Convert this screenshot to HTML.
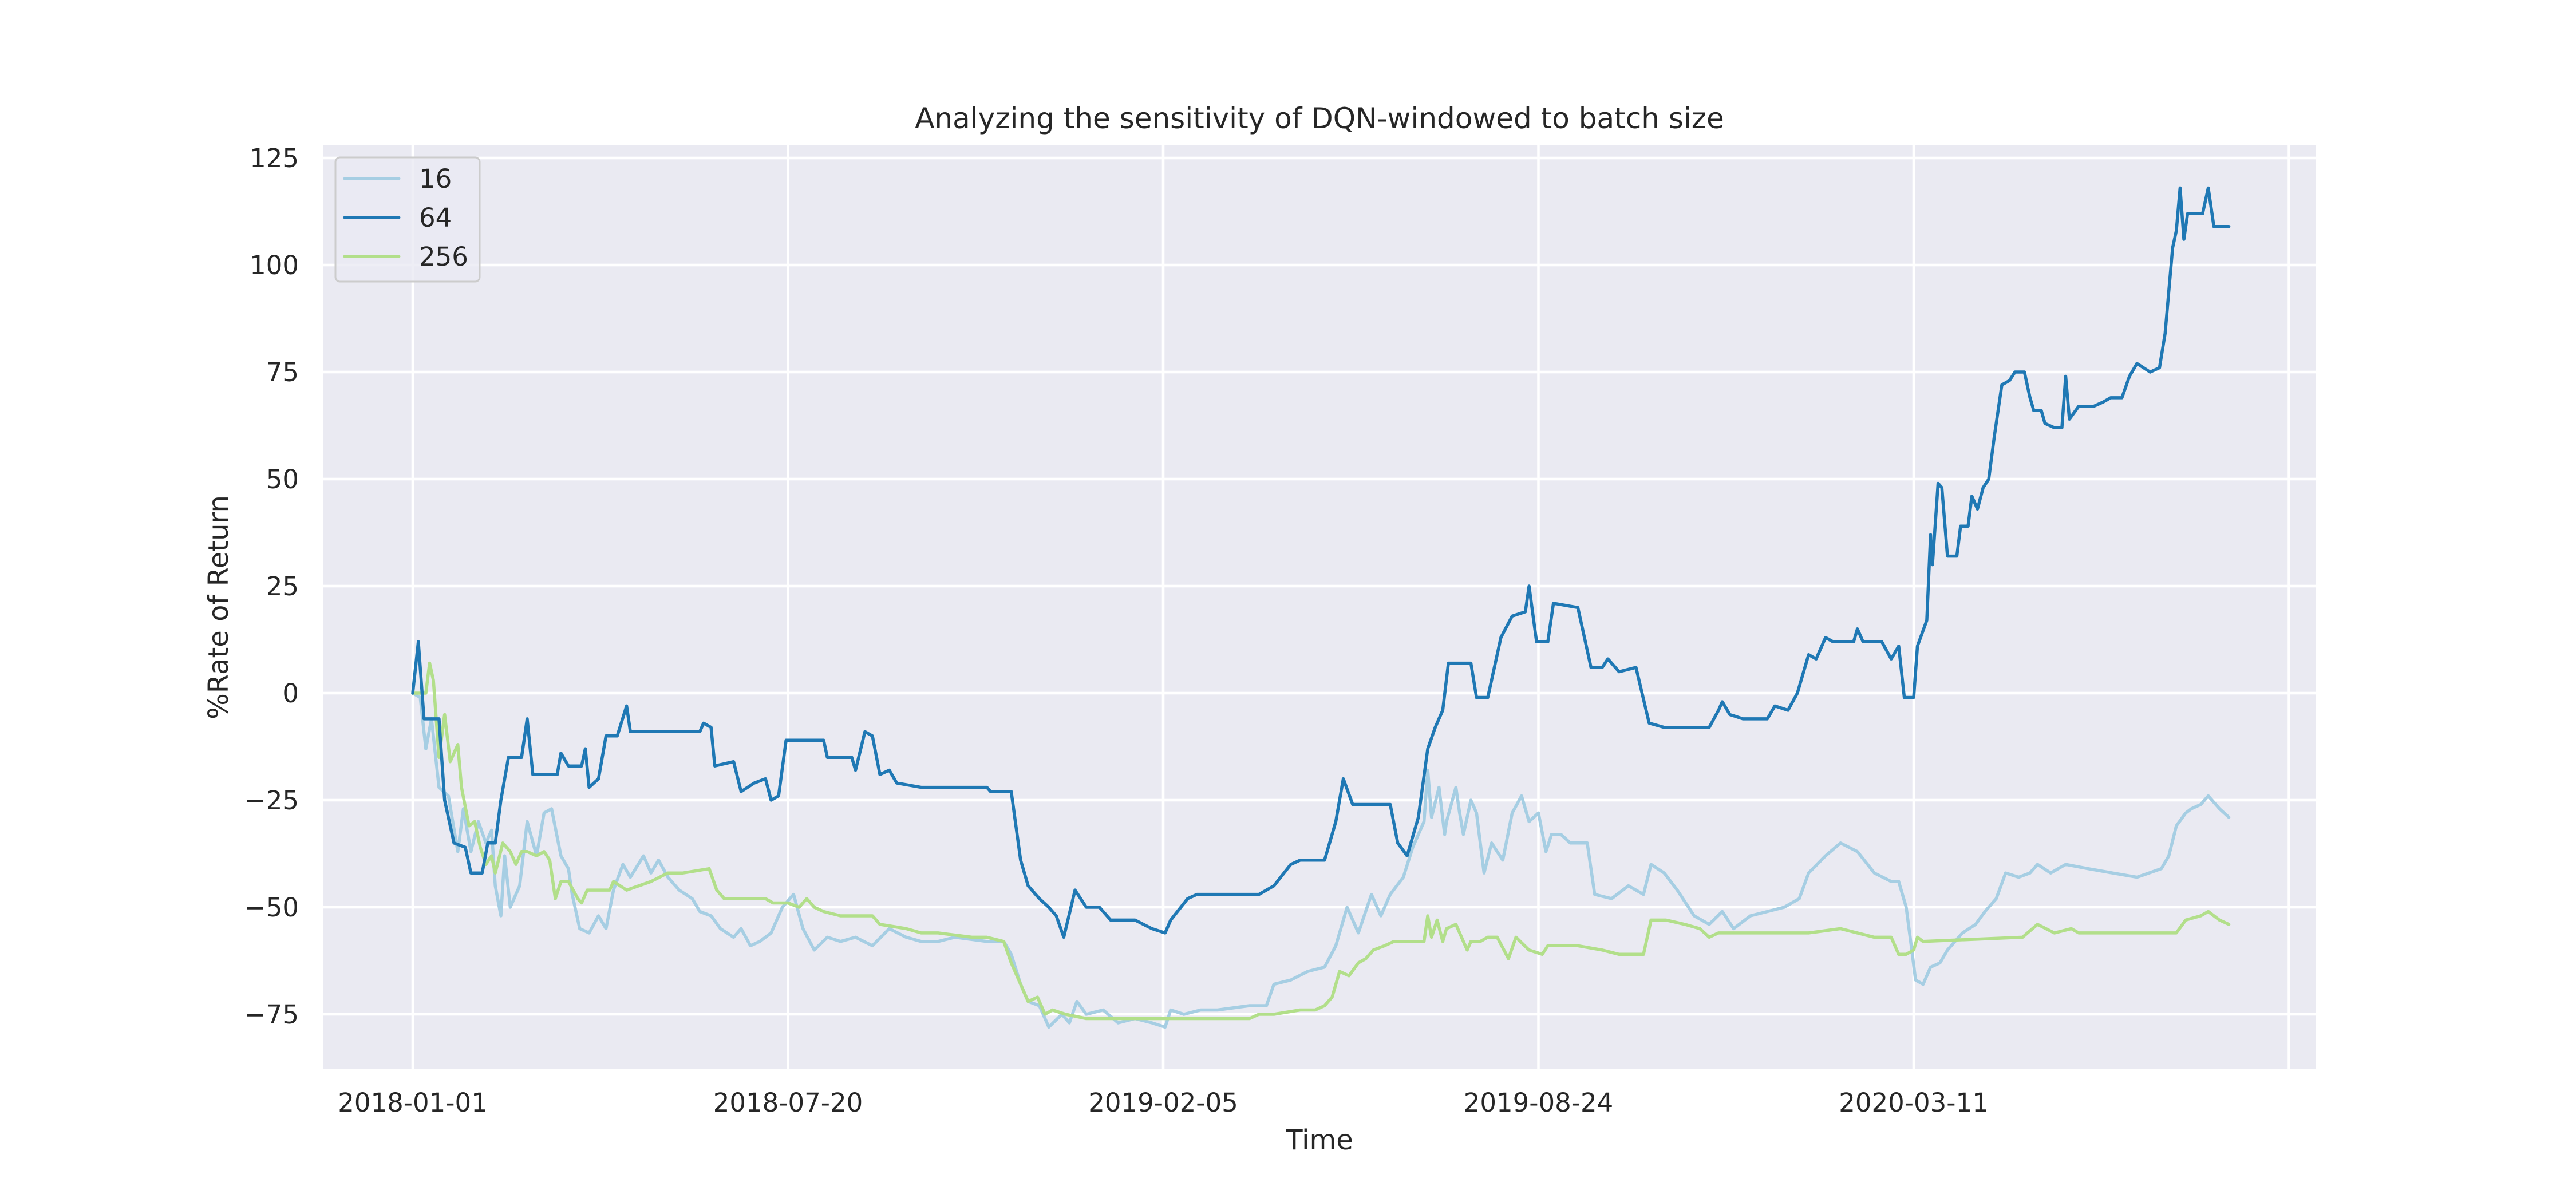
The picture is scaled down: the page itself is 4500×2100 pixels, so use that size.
<!DOCTYPE html>
<html><head><meta charset="utf-8"><style>
html,body{margin:0;padding:0;background:#fff}
svg{display:block;font-family:"DejaVu Sans","Liberation Sans",sans-serif}
</style></head><body>
<svg id="chart" width="4500" height="2100" viewBox="0 0 4500 2100" xmlns="http://www.w3.org/2000/svg">
<rect x="0" y="0" width="4500" height="2100" fill="#ffffff"/>
<rect x="565" y="254" width="3481" height="1614" fill="#eaeaf2"/>
<g id="grid"></g>
<g id="series"></g>
<g id="ticks"></g>
<text x="2305" y="224" font-size="50" text-anchor="middle" fill="#262626">Analyzing the sensitivity of DQN-windowed to batch size</text>
<text x="2305" y="2008" font-size="48" text-anchor="middle" fill="#262626">Time</text>
<text x="0" y="0" font-size="48" text-anchor="middle" fill="#262626" transform="translate(398,1061) rotate(-90)">%Rate of Return</text>
<g>
<rect x="586" y="275" width="252" height="217" rx="8" fill="#eaeaf2" fill-opacity="0.8" stroke="#cccccc" stroke-width="3"/>
<g><line x1="602" y1="312" x2="697" y2="312" stroke="#a6cee3" stroke-width="5" stroke-linecap="round"/><text x="732" y="328" font-size="45" fill="#262626">16</text></g>
<g><line x1="602" y1="380" x2="697" y2="380" stroke="#1f78b4" stroke-width="5" stroke-linecap="round"/><text x="732" y="396" font-size="45" fill="#262626">64</text></g>
<g><line x1="602" y1="448" x2="697" y2="448" stroke="#b2df8a" stroke-width="5" stroke-linecap="round"/><text x="732" y="464" font-size="45" fill="#262626">256</text></g>
</g>
</svg>
<script>
const xTickDays = [0, 200, 400, 600, 800, 1000];
const xTickLabels = ["2018-01-01", "2018-07-20", "2019-02-05", "2019-08-24", "2020-03-11", ""];
const yTicks = [-75, -50, -25, 0, 25, 50, 75, 100, 125];
const seriesNames = ["16", "64", "256"];
const days16 = [0,4,7,10,14,19,24,27,31,35,39,42,44,47,49,52,57,61,66,70,74,79,83,85,89,94,99,103,107,112,116,123,127,131,136,142,149,153,159,164,171,175,180,185,191,197,203,208,214,221,228,236,245,254,263,271,280,289,306,315,319,324,328,334,339,346,350,354,359,368,376,385,394,401,404,411,420,429,446,455,459,468,477,486,492,498,504,511,516,521,528,533,539,541,543,547,550,551,556,558,560,564,567,571,575,581,586,591,595,600,604,607,612,617,626,630,639,648,656,660,667,674,683,691,698,704,713,722,731,739,744,753,761,770,779,788,792,796,799,801,805,809,814,818,826,833,838,844,849,856,862,866,873,881,893,906,919,932,936,940,945,948,953,957,963,968];
const vals16 = [0,-1,-13,-6,-22,-24,-37,-27,-37,-30,-35,-32,-45,-52,-38,-50,-45,-30,-38,-28,-27,-38,-41,-47,-55,-56,-52,-55,-46,-40,-43,-38,-42,-39,-43,-46,-48,-51,-52,-55,-57,-55,-59,-58,-56,-50,-47,-55,-60,-57,-58,-57,-59,-55,-57,-58,-58,-57,-58,-58,-61,-68,-72,-73,-78,-75,-77,-72,-75,-74,-77,-76,-77,-78,-74,-75,-74,-74,-73,-73,-68,-67,-65,-64,-59,-50,-56,-47,-52,-47,-43,-36,-30,-18,-29,-22,-33,-30,-22,-28,-33,-25,-28,-42,-35,-39,-28,-24,-30,-28,-37,-33,-33,-35,-35,-47,-48,-45,-47,-40,-42,-46,-52,-54,-51,-55,-52,-51,-50,-48,-42,-38,-35,-37,-42,-44,-44,-50,-60,-67,-68,-64,-63,-60,-56,-54,-51,-48,-42,-43,-42,-40,-42,-40,-41,-42,-43,-41,-38,-31,-28,-27,-26,-24,-27,-29];
const days64 = [0,3,6,14,17,22,28,31,37,40,44,47,51,58,61,64,77,79,83,90,92,94,99,103,109,114,116,153,155,159,161,171,175,182,188,191,195,199,219,221,234,236,241,245,249,254,258,271,306,308,319,324,328,334,339,343,347,353,359,366,372,385,394,401,404,413,418,451,459,468,473,486,492,496,501,521,525,530,536,541,545,549,552,564,567,573,580,586,593,595,599,605,608,621,628,634,637,643,652,659,667,691,696,698,702,709,722,726,733,738,744,748,753,757,768,770,773,783,788,792,795,800,802,807,809,810,813,815,818,823,825,829,831,834,837,840,843,847,851,854,859,862,864,868,870,875,879,881,883,888,896,901,905,911,915,919,926,931,934,938,940,942,944,946,954,957,960,968];
const vals64 = [0,12,-6,-6,-25,-35,-36,-42,-42,-35,-35,-25,-15,-15,-6,-19,-19,-14,-17,-17,-13,-22,-20,-10,-10,-3,-9,-9,-7,-8,-17,-16,-23,-21,-20,-25,-24,-11,-11,-15,-15,-18,-9,-10,-19,-18,-21,-22,-22,-23,-23,-39,-45,-48,-50,-52,-57,-46,-50,-50,-53,-53,-55,-56,-53,-48,-47,-47,-45,-40,-39,-39,-30,-20,-26,-26,-35,-38,-29,-13,-8,-4,7,7,-1,-1,13,18,19,25,12,12,21,20,6,6,8,5,6,-7,-8,-8,-4,-2,-5,-6,-6,-3,-4,0,9,8,13,12,12,15,12,12,8,11,-1,-1,11,17,37,30,49,48,32,32,39,39,46,43,48,50,60,72,73,75,75,69,66,66,63,62,62,74,64,67,67,68,69,69,74,77,75,76,84,104,108,118,106,112,112,118,109,109];
const days256 = [0,7,9,11,14,17,20,24,26,30,33,36,39,42,44,48,52,55,58,61,66,70,73,76,79,83,88,90,93,105,107,114,127,136,144,158,162,166,188,192,200,206,210,214,219,228,245,249,263,271,280,298,306,315,319,324,328,333,337,341,348,359,394,411,446,451,459,473,481,486,490,494,499,504,508,512,518,523,530,539,541,543,546,549,551,556,560,562,564,569,573,578,584,588,595,602,605,621,634,643,656,660,668,678,686,691,696,709,744,761,770,779,788,792,796,800,802,805,858,866,875,884,888,919,940,945,953,957,963,968];
const vals256 = [0,0,7,3,-15,-5,-16,-12,-22,-31,-30,-36,-40,-38,-42,-35,-37,-40,-37,-37,-38,-37,-39,-48,-44,-44,-48,-49,-46,-46,-44,-46,-44,-42,-42,-41,-46,-48,-48,-49,-49,-50,-48,-50,-51,-52,-52,-54,-55,-56,-56,-57,-57,-58,-63,-68,-72,-71,-75,-74,-75,-76,-76,-76,-76,-75,-75,-74,-74,-73,-71,-65,-66,-63,-62,-60,-59,-58,-58,-58,-52,-57,-53,-58,-55,-54,-58,-60,-58,-58,-57,-57,-62,-57,-60,-61,-59,-59,-60,-61,-61,-53,-53,-54,-55,-57,-56,-56,-56,-55,-56,-57,-57,-61,-61,-60,-57,-58,-57,-54,-56,-55,-56,-56,-56,-53,-52,-51,-53,-54];

const NS = "http://www.w3.org/2000/svg";
const PL = 565, PR = 4046, PT = 254, PB = 1868;
function xScale(d) { return 721 + d * 655.5 / 200; }
function yScale(v) { return 1211 - v * 7.48; }

const grid = document.getElementById('grid');
const ticks = document.getElementById('ticks');
xTickDays.forEach((d, i) => {
  const l = document.createElementNS(NS, 'line');
  
  
  l.setAttribute('x1', xScale(d)); l.setAttribute('x2', xScale(d));
  l.setAttribute('y1', PT); l.setAttribute('y2', PB);
  l.setAttribute('stroke', '#ffffff'); l.setAttribute('stroke-width', '4.5');
  grid.appendChild(l);
  if (xTickLabels[i]) {
    const t = document.createElementNS(NS, 'text');
    
    
    t.setAttribute('x', xScale(d)); t.setAttribute('y', 1942);
    t.setAttribute('font-size', '45'); t.setAttribute('text-anchor', 'middle');
    t.setAttribute('fill', '#262626');
    t.textContent = xTickLabels[i];
    ticks.appendChild(t);
  }
});
yTicks.forEach(v => {
  const l = document.createElementNS(NS, 'line');
  
  
  l.setAttribute('x1', PL); l.setAttribute('x2', PR);
  l.setAttribute('y1', yScale(v)); l.setAttribute('y2', yScale(v));
  l.setAttribute('stroke', '#ffffff'); l.setAttribute('stroke-width', '4.5');
  grid.appendChild(l);
  const t = document.createElementNS(NS, 'text');
  
  
  t.setAttribute('x', 522); t.setAttribute('y', yScale(v) + 16);
  t.setAttribute('font-size', '45'); t.setAttribute('text-anchor', 'end');
  t.setAttribute('fill', '#262626');
  t.textContent = v < 0 ? '\u2212' + Math.abs(v) : String(v);
  ticks.appendChild(t);
});

const seriesG = document.getElementById('series');
function drawLine(days, vals, color, name) {
  const p = document.createElementNS(NS, 'path');
  let d = '';
  days.forEach((dd, i) => { d += (i ? 'L' : 'M') + xScale(dd).toFixed(1) + ',' + yScale(vals[i]).toFixed(1); });
  p.setAttribute('d', d);
  p.setAttribute('fill', 'none');
  p.setAttribute('stroke', color);
  p.setAttribute('stroke-width', '5.5');
  p.setAttribute('stroke-linejoin', 'round');
  p.setAttribute('stroke-linecap', 'round');
  
  
  seriesG.appendChild(p);
}
drawLine(days16, vals16, '#a6cee3', 'line-batch-16');
drawLine(days256, vals256, '#b2df8a', 'line-batch-256');
drawLine(days64, vals64, '#1f78b4', 'line-batch-64');
</script>
</body></html>
